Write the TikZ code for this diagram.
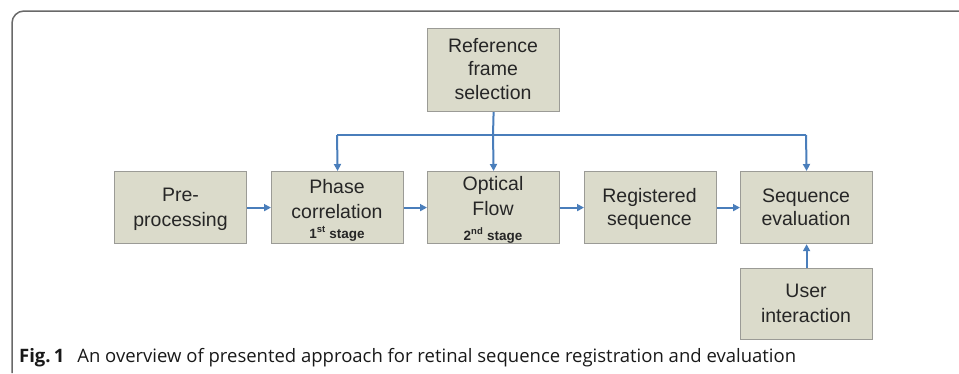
\documentclass[tikz,border=0pt]{standalone}
\usepackage{fontspec}
\setmainfont{Liberation Sans}
\newfontfamily\capfont{Open Sans}
\usetikzlibrary{arrows.meta}
\definecolor{boxfill}{RGB}{219,219,203}
\definecolor{boxline}{RGB}{155,155,150}
\definecolor{arrowblue}{RGB}{74,126,187}
\definecolor{framegray}{RGB}{105,105,105}
\tikzset{
  stepbox/.style={draw=boxline, line width=1.2pt, fill=boxfill, minimum width=132pt, minimum height=72pt, inner sep=0pt, anchor=north west},
  boxtext/.style={anchor=base, inner sep=0pt, font=\fontsize{19.5}{22}\selectfont, text=black!85},
  stagetext/.style={anchor=base, inner sep=0pt, font=\fontsize{13.5}{15}\selectfont\bfseries, text=black!85},
  flow/.style={draw=arrowblue, line width=2pt, -{Triangle[length=7pt,width=7pt]}},
  flowline/.style={draw=arrowblue, line width=2pt}
}
\begin{document}
\begin{tikzpicture}[x=1pt,y=-1pt]
\useasboundingbox (0,0) rectangle (959,373);
% frame
\draw[framegray, line width=1.5pt, rounded corners=12pt] (12,373) -- (12,11) -- (959,11);
% boxes
\node[stepbox, minimum height=83pt] (ref) at (427,28) {};
\node[stepbox] (pre) at (114,171) {};
\node[stepbox] (phase) at (271,171) {};
\node[stepbox] (optical) at (427,171) {};
\node[stepbox] (reg) at (584,171) {};
\node[stepbox] (seq) at (740,171) {};
\node[stepbox, minimum height=71pt] (user) at (740,268) {};
% texts
\node[boxtext] (ref1) at (493,52) {Reference};
\node[boxtext] (ref2) at (493,75) {frame};
\node[boxtext] (ref3) at (493,99) {selection};
\node[boxtext] (pre1) at (180.5,201) {Pre-};
\node[boxtext] (pre2) at (180.5,226) {processing};
\node[boxtext] (ph1) at (337,193) {Phase};
\node[boxtext] (ph2) at (337,218) {correlation};
\node[stagetext] (ph3) at (337,238) {1\textsuperscript{st} stage};
\node[boxtext] (op1) at (493,190) {Optical};
\node[boxtext] (op2) at (493,215) {Flow};
\node[stagetext] (op3) at (493,240) {2\textsuperscript{nd} stage};
\node[boxtext] (rg1) at (649.5,202) {Registered};
\node[boxtext] (rg2) at (649.5,225) {sequence};
\node[boxtext] (sq1) at (806,202) {Sequence};
\node[boxtext] (sq2) at (806,225) {evaluation};
\node[boxtext] (us1) at (806,297) {User};
\node[boxtext] (us2) at (806,322) {interaction};
% connectors
\coordinate (junc) at (493,135);
\coordinate (jl) at (337,135);
\coordinate (jr) at (806,135);
\draw[flowline] (ref.south) -- (junc);
\draw[flowline] (jl) -- (jr);
\draw[flow] (jl) -- (phase.north);
\draw[flow] (junc) -- (optical.north);
\draw[flow] (jr) -- (seq.north);
\draw[flow] (pre.east) -- (phase.west);
\draw[flow] (phase.east) -- (optical.west);
\draw[flow] (optical.east) -- (reg.west);
\draw[flow] (reg.east) -- (seq.west);
\draw[flow] (user.north) -- (seq.south);
% caption
\node[anchor=base west, inner sep=0pt, font=\capfont\fontsize{18.5}{20}\selectfont, text=black!90] (cap) at (19,362) {\textbf{Fig.\,1}\hspace{0.7em}An overview of presented approach for retinal sequence registration and evaluation};
\end{tikzpicture}
\end{document}
